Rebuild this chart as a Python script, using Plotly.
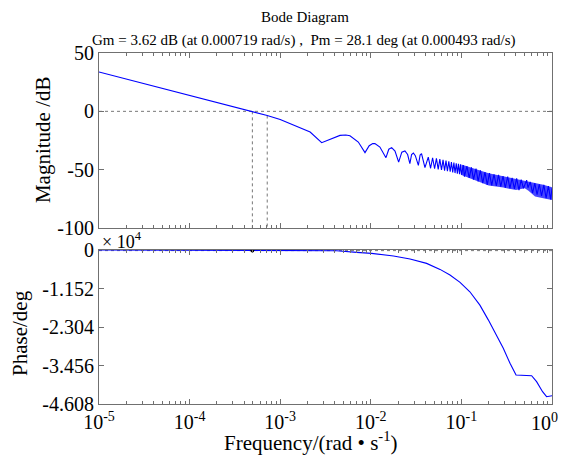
import plotly.graph_objects as go

# ---------------- data ----------------
# magnitude curve (rad/s, dB) – smooth part, first ripples, then the dense ripple zig-zag
mag_freq = [1e-5, 1e-4, 2.8e-4, 4.93e-4, 7.19e-4, 1.0e-3, 1.29e-3, 2.14e-3, 2.87e-3,
            3.5e-3, 4.57e-3, 5.3e-3, 5.89e-3, 7.28e-3, 8.63e-3, 9.6e-3, 1.05e-2, 1.11e-2,
            1.26e-2, 1.47e-2, 1.58e-2, 1.70e-2, 1.85e-2, 2.03e-2, 2.2e-2, 2.38e-2, 2.55e-2,
            2.70e-2, 2.82e-2, 2.95e-2, 3.1e-2, 3.35e-2, 3.5e-2, 3.63e-2, 3.96e-2, 4.31e-2,
            0.0457, 0.0481, 0.0506, 0.0530, 0.0555, 0.0578, 0.0603, 0.0627, 0.0652, 0.0676,
            0.0701, 0.0726, 0.0752, 0.0776, 0.0802, 0.0826, 0.0851, 0.0877, 0.0902, 0.0927,
            0.0953, 0.0977, 0.1002,
            0.105, 0.108, 0.115, 0.122, 0.129, 0.136, 0.145, 0.153, 0.162, 0.172,
            0.182, 0.193, 0.204, 0.216, 0.229, 0.243, 0.257, 0.272, 0.288, 0.305,
            0.324, 0.343, 0.363, 0.385, 0.407, 0.432, 0.457, 0.484, 0.525, 0.543,
            0.575, 0.610, 0.646, 0.684, 0.724, 0.767, 0.813, 0.861, 0.912, 0.966, 1.0]
mag_db = [33.7, 13.8, 5.1, 0.0, -3.6, -7.0, -10.6, -17.7, -26.9,
          -24.0, -20.6, -20.3, -20.9, -26.3, -35.4, -29.5, -27.6, -27.7,
          -30.6, -39.7, -32.5, -31.1, -34.0, -43.5, -35.0, -34.0, -37.0,
          -44.8, -37.0, -35.7, -38.0, -46.3, -37.5, -36.3, -48.3, -39.2,
          -48.8, -39.8, -49.2, -40.3, -49.8, -41.0, -50.3, -41.6, -50.8, -42.2,
          -51.3, -42.8, -51.8, -43.5, -52.4, -44.0, -52.9, -44.5, -53.4, -45.0,
          -53.9, -45.5, -54.4,
          -46.0, -56.0, -47.0, -57.0, -48.0, -58.5, -49.0, -60.0, -50.5, -61.5,
          -52.0, -63.0, -53.0, -63.5, -54.0, -64.0, -54.5, -64.5, -55.5, -65.5,
          -56.0, -66.0, -57.0, -66.5, -57.5, -67.5, -58.5, -66.0, -59.0, -65.5,
          -60.5, -70.0, -61.5, -71.5, -62.5, -72.5, -63.0, -74.5, -64.0, -75.5, -66.0]

# envelope of the dense ripple band (rad/s, dB)
band_freq = [0.1, 0.15, 0.2, 0.29, 0.4, 0.5, 0.55, 0.65, 0.8, 1.0]
band_upper = [-45.5, -49.5, -53.0, -55.6, -58.0, -59.3, -59.8, -61.5, -63.0, -65.0]
band_lower = [-54.5, -60.0, -63.5, -65.3, -67.5, -66.0, -68.0, -73.0, -74.5, -76.0]

# phase curve (rad/s, x 10^4 deg)
phase_freq = [1e-5, 1e-4, 1e-3, 4.2e-3, 7.0e-3, 0.0102, 0.0178, 0.0271, 0.0413, 0.0581,
              0.0748, 0.0966, 0.124, 0.160, 0.198, 0.245, 0.290, 0.344, 0.401,
              0.596, 0.676, 0.787, 0.871, 1.0]
phase_val = [0.0, 0.0, -0.005, -0.02, -0.07, -0.10, -0.18, -0.27, -0.40, -0.58,
             -0.75, -0.97, -1.25, -1.65, -2.09, -2.54, -2.94, -3.39, -3.74,
             -3.76, -3.94, -4.24, -4.39, -4.36]

wpm = 4.93e-4   # phase-margin frequency
wgm = 7.19e-4   # gain-margin frequency
gm_level = -3.6

x_tickvals = [1e-5, 1e-4, 1e-3, 1e-2, 1e-1, 1]
x_ticktext = ["10<sup>-5</sup>", "10<sup>-4</sup>", "10<sup>-3</sup>",
              "10<sup>-2</sup>", "10<sup>-1</sup>", ""]
x_last_label = "10<sup>0</sup>"   # drawn right-aligned at the edge, as in the reference
mag_tickvals = [50, 0, -50, -100]
mag_ticktext = ["50", "0", "-50", "-100"]
ph_tickvals = [0, -1.152, -2.304, -3.456, -4.608]
ph_ticktext = ["0", "-1.152", "-2.304", "-3.456", "-4.608"]

title_text = "Bode Diagram"
subtitle_text = "Gm = 3.62 dB (at 0.000719 rad/s) ,  Pm = 28.1 deg (at 0.000493 rad/s)"

# ---------------- figure ----------------
FONT = "Liberation Serif, Times New Roman, serif"
AX = "#707070"
DOT = dict(color="#777777", width=1, dash="dot")
BLUE = "#0000ff"
fig = go.Figure()

# reference lines (magnitude)
fig.add_trace(go.Scatter(x=[1e-5, 1], y=[0, 0], mode="lines", line=DOT,
                         xaxis="x", yaxis="y", hoverinfo="skip"))
fig.add_trace(go.Scatter(x=[wpm, wpm], y=[0, -100], mode="lines", line=DOT,
                         xaxis="x", yaxis="y", hoverinfo="skip"))
fig.add_trace(go.Scatter(x=[wgm, wgm], y=[gm_level, -100], mode="lines", line=DOT,
                         xaxis="x", yaxis="y", hoverinfo="skip"))
# dense ripple band
fig.add_trace(go.Scatter(x=band_freq + band_freq[::-1], y=band_upper + band_lower[::-1],
                         mode="lines", fill="toself", fillcolor="rgba(0,0,255,0.72)",
                         line=dict(width=0), xaxis="x", yaxis="y", hoverinfo="skip"))
# magnitude curve
fig.add_trace(go.Scatter(x=mag_freq, y=mag_db, mode="lines",
                         line=dict(color=BLUE, width=1.1),
                         xaxis="x", yaxis="y"))

# phase reference line (-180 deg) and marker
fig.add_trace(go.Scatter(x=[1e-5, 1], y=[-0.018, -0.018], mode="lines", line=DOT,
                         xaxis="x2", yaxis="y2", hoverinfo="skip"))
fig.add_trace(go.Scatter(x=phase_freq, y=phase_val, mode="lines",
                         line=dict(color=BLUE, width=1.1),
                         xaxis="x2", yaxis="y2"))
fig.add_trace(go.Scatter(x=[wpm], y=[-0.018], mode="markers",
                         marker=dict(color="black", size=4),
                         xaxis="x2", yaxis="y2"))

common_x = dict(type="log", range=[-5, 0], showline=True, linecolor=AX, linewidth=1,
                mirror="ticks", ticks="inside", ticklen=5, tickcolor=AX,
                tickvals=x_tickvals, showgrid=False, zeroline=False,
                ticklabeloverflow="allow", automargin=False,
                minor=dict(ticks="inside", ticklen=3, tickcolor=AX, dtick="D1", showgrid=False))

common_y = dict(showline=True, linecolor=AX, linewidth=1, mirror="ticks", ticks="inside",
                ticklen=5, tickcolor=AX, showgrid=False, zeroline=False,
                tickfont=dict(size=20), automargin=False)

fig.update_layout(
    width=561, height=460,
    margin=dict(l=99, r=9, t=53, b=56, autoexpand=False),
    paper_bgcolor="white", plot_bgcolor="white",
    showlegend=False,
    font=dict(family=FONT, color="black", size=18),
    xaxis=dict(common_x, anchor="y", showticklabels=False, matches="x2"),
    yaxis=dict(common_y, domain=[0.5014, 1.0], range=[-100, 50],
               tickvals=mag_tickvals, ticktext=mag_ticktext, anchor="x"),
    xaxis2=dict(common_x, anchor="y2", ticktext=x_ticktext, tickfont=dict(size=20)),
    yaxis2=dict(common_y, domain=[0.0, 0.4387], range=[-4.608, 0],
                tickvals=ph_tickvals, ticktext=ph_ticktext, anchor="x2"),
)

ann = [
    dict(text=title_text, x=0.4547, y=1.1026, font=dict(size=15)),
    dict(text=subtitle_text, x=0.4525, y=1.037, font=dict(size=15)),
    dict(text="Magnitude /dB", x=-0.1236, y=0.752, textangle=-90, font=dict(size=21)),
    dict(text="Phase/deg", x=-0.1744, y=0.2023, textangle=-90, font=dict(size=21)),
    dict(text="Frequency/(rad • s<sup>-1</sup>)", x=0.468, y=-0.108, font=dict(size=21)),
    dict(text="× 10<sup>4</sup>", x=0.002, y=0.4672, xanchor="left", font=dict(size=18)),
    dict(text=x_last_label, x=1.0177, y=-0.052, xanchor="right", font=dict(size=20)),
]
for a in ann:
    a.setdefault("xanchor", "center")
    fig.add_annotation(xref="paper", yref="paper", yanchor="middle", showarrow=False, **a)

fig.write_html("out.html")
